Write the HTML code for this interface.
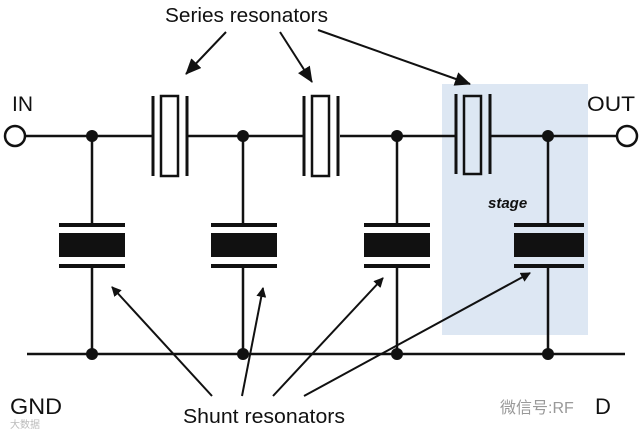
<!DOCTYPE html><html><head><style>body{margin:0;background:#fff}svg{display:block}</style></head><body>
<svg width="640" height="433" xmlns="http://www.w3.org/2000/svg" font-family="Liberation Sans, Noto Sans CJK SC, sans-serif">
<defs><marker id="a" markerWidth="10" markerHeight="10" refX="9" refY="5" orient="auto" markerUnits="userSpaceOnUse"><path d="M0,0 L10,5 L0,10 z" fill="#111"/></marker>
<marker id="b" markerWidth="16" markerHeight="14" refX="15" refY="7" orient="auto" markerUnits="userSpaceOnUse"><path d="M0,0 L16,7 L0,14 z" fill="#111"/></marker></defs>
<rect x="442" y="84" width="146" height="251" fill="#dde7f3"/>
<g stroke="#111" stroke-width="2.5" fill="none">
<line x1="25" y1="136" x2="152" y2="136"/><line x1="187" y1="136" x2="303" y2="136"/><line x1="340" y1="136" x2="456" y2="136"/><line x1="491" y1="136" x2="617" y2="136"/>
<line x1="27" y1="354" x2="625" y2="354"/>
<circle cx="15" cy="136" r="10" fill="#fff"/><circle cx="627" cy="136" r="10" fill="#fff"/>
</g>
<g stroke="#111" fill="none">
<g stroke-width="3"><line x1="153" y1="96" x2="153" y2="176"/><line x1="187" y1="96" x2="187" y2="176"/><rect x="161" y="96" width="17" height="80" stroke-width="2.5"/>
<line x1="304" y1="96" x2="304" y2="176"/><line x1="338" y1="96" x2="338" y2="176"/><rect x="312" y="96" width="17" height="80" stroke-width="2.5"/>
<line x1="456" y1="94" x2="456" y2="174"/><line x1="490" y1="94" x2="490" y2="174"/><rect x="464" y="96" width="17" height="78" stroke-width="2.5"/></g>
<g stroke-width="2.5">
<line x1="92" y1="136" x2="92" y2="224"/><line x1="92" y1="267" x2="92" y2="354"/>
<line x1="243" y1="136" x2="243" y2="224"/><line x1="243" y1="267" x2="243" y2="354"/>
<line x1="397" y1="136" x2="397" y2="224"/><line x1="397" y1="267" x2="397" y2="354"/>
<line x1="548" y1="136" x2="548" y2="224"/><line x1="548" y1="267" x2="548" y2="354"/></g>
</g>
<g fill="#111">
<circle cx="92" cy="136" r="6"/><circle cx="243" cy="136" r="6"/><circle cx="397" cy="136" r="6"/><circle cx="548" cy="136" r="6"/>
<circle cx="92" cy="354" r="6"/><circle cx="243" cy="354" r="6"/><circle cx="397" cy="354" r="6"/><circle cx="548" cy="354" r="6"/>
</g>
<g fill="#111">
<g transform="translate(92,0)"><rect x="-33" y="223" width="66" height="4"/><rect x="-33" y="233" width="66" height="24"/><rect x="-33" y="264" width="66" height="4"/></g>
<g transform="translate(244,0)"><rect x="-33" y="223" width="66" height="4"/><rect x="-33" y="233" width="66" height="24"/><rect x="-33" y="264" width="66" height="4"/></g>
<g transform="translate(397,0)"><rect x="-33" y="223" width="66" height="4"/><rect x="-33" y="233" width="66" height="24"/><rect x="-33" y="264" width="66" height="4"/></g>
<g transform="translate(549,0)"><rect x="-35" y="223" width="70" height="4"/><rect x="-35" y="233" width="70" height="24"/><rect x="-35" y="264" width="70" height="4"/></g>
</g>
<g stroke="#111" stroke-width="2">
<line x1="226" y1="32" x2="186" y2="74" marker-end="url(#b)"/>
<line x1="280" y1="32" x2="312" y2="82" marker-end="url(#b)"/>
<line x1="318" y1="30" x2="470" y2="84" marker-end="url(#b)"/>
<line x1="212" y1="396" x2="112" y2="287" marker-end="url(#a)"/>
<line x1="242" y1="396" x2="263" y2="288" marker-end="url(#a)"/>
<line x1="273" y1="396" x2="383" y2="278" marker-end="url(#a)"/>
<line x1="304" y1="396" x2="530" y2="273" marker-end="url(#a)"/>
</g>
<g fill="#111" font-size="20">
<text x="165" y="22" textLength="163" lengthAdjust="spacingAndGlyphs">Series resonators</text>
<text x="12" y="111" font-size="21">IN</text>
<text x="587" y="111" font-size="21" textLength="48" lengthAdjust="spacingAndGlyphs">OUT</text>
<text x="10" y="414" font-size="22" textLength="52" lengthAdjust="spacingAndGlyphs">GND</text>
<text x="183" y="423" textLength="162" lengthAdjust="spacingAndGlyphs">Shunt resonators</text>
<text x="488" y="208" font-size="15" font-style="italic" font-weight="bold">stage</text>
<text x="500" y="413" font-size="16" fill="#999">微信号:RF</text>
<text x="595" y="414" font-size="22">D</text>
<text x="10" y="428" font-size="10" fill="#bbb">大数据</text>
</g>
</svg>
</body></html>
